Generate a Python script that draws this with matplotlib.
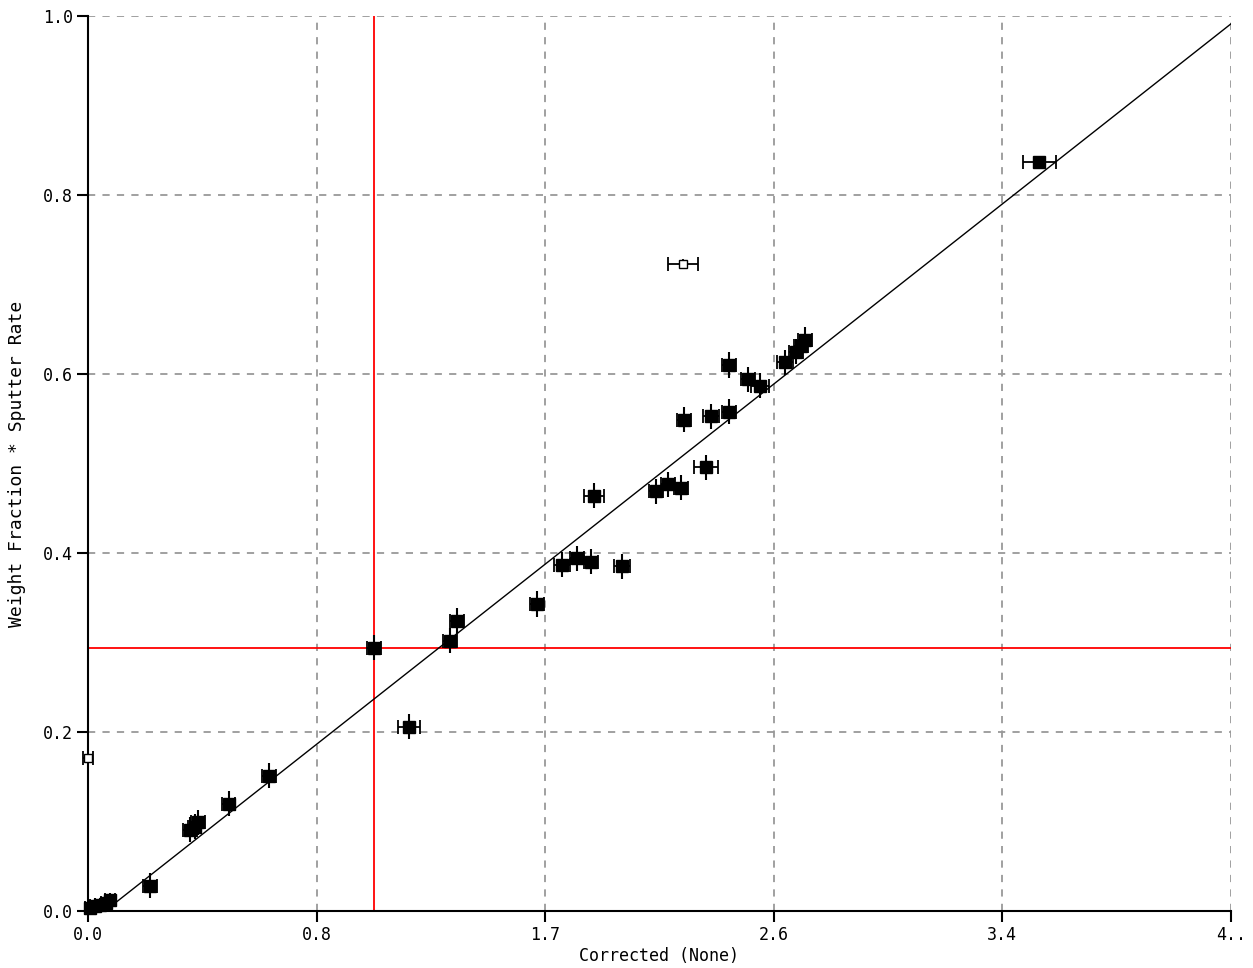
import matplotlib
matplotlib.use("Agg")
import matplotlib.pyplot as plt
import numpy as np

# measured points (filled squares)
x_vals = [0.008, 0.026, 0.045, 0.068, 0.083, 0.233, 0.384, 0.402, 0.414, 0.530, 0.681,
          1.076, 1.208, 1.362, 1.388, 1.689, 1.783, 1.840, 1.892, 2.009, 1.904,
          2.137, 2.182, 2.231, 2.325, 2.242, 2.344, 2.412, 2.412, 2.483, 2.528,
          2.622, 2.664, 2.682, 2.698, 3.578]
y_vals = [0.003, 0.006, 0.007, 0.009, 0.012, 0.028, 0.091, 0.094, 0.099, 0.120, 0.151,
          0.294, 0.206, 0.302, 0.324, 0.343, 0.387, 0.394, 0.390, 0.385, 0.464,
          0.469, 0.477, 0.473, 0.496, 0.549, 0.553, 0.558, 0.610, 0.594, 0.587,
          0.613, 0.625, 0.631, 0.638, 0.837]
x_err = [0.02, 0.02, 0.02, 0.02, 0.02, 0.025, 0.025, 0.025, 0.025, 0.025, 0.025,
         0.025, 0.04, 0.025, 0.025, 0.025, 0.03, 0.025, 0.025, 0.03, 0.038,
         0.025, 0.025, 0.025, 0.045, 0.025, 0.03, 0.025, 0.025, 0.025, 0.035,
         0.03, 0.025, 0.025, 0.025, 0.062]
y_err = [0.008] * 5 + [0.014] * 30 + [0.006]

# excluded points (open squares)
x_open = [0.0, 2.239]
y_open = [0.171, 0.723]
x_open_err = [0.02, 0.056]
y_open_err = [0.01, 0.006]

# calibration fit and reference cross-hair
fit_slope = 0.234
fit_intercept = -0.015
ref_x = 1.076
ref_y = 0.294

xticks = [0.0, 0.86, 1.72, 2.58, 3.44, 4.3]
xtick_labels = ["0.0", "0.8", "1.7", "2.6", "3.4", "4.."]
yticks = [0.0, 0.2, 0.4, 0.6, 0.8, 1.0]

plt.rcParams['font.family'] = 'DejaVu Sans Mono'

fig = plt.figure(figsize=(12.53, 9.68), dpi=100)
ax = fig.add_axes([0.0702, 0.0589, 0.9122, 0.9246])

ax.set_xlim(0, 4.3)
ax.set_ylim(0, 1.0)

ax.grid(True, color='#999999', linestyle=(0, (4, 4)), linewidth=1.3)
ax.set_axisbelow(True)

xf = np.linspace(0, 4.3, 200)
ax.plot(xf, fit_slope * xf + fit_intercept, color='black', linewidth=1.0, zorder=3)

ax.axvline(ref_x, color='red', linewidth=1.3, zorder=2)
ax.axhline(ref_y, color='red', linewidth=1.3, zorder=2)

# vertical error bars without caps, horizontal ones with caps
ax.errorbar(x_vals, y_vals, yerr=y_err, fmt='none', ecolor='black',
            elinewidth=1.5, capsize=0, zorder=4, clip_on=False)
ax.errorbar(x_vals, y_vals, xerr=x_err, fmt='s', color='black',
            markersize=9, elinewidth=1.3, capsize=5, capthick=1.3, zorder=4,
            clip_on=False)
ax.errorbar(x_open, y_open, yerr=y_open_err, fmt='none', ecolor='black',
            elinewidth=1.3, capsize=0, zorder=4, clip_on=False)
ax.errorbar(x_open, y_open, xerr=x_open_err, fmt='s',
            color='black', markerfacecolor='white', markersize=6,
            elinewidth=1.3, capsize=5, capthick=1.3, zorder=4, clip_on=False)

ax.set_xticks(xticks)
ax.set_xticklabels(xtick_labels)
ax.set_yticks(yticks)
ax.set_yticklabels([f"{v:.1f}" for v in yticks])
ax.tick_params(direction='out', length=8, width=1.5, labelsize=12, pad=3)

for side in ['top', 'right']:
    ax.spines[side].set_visible(False)
for side in ['left', 'bottom']:
    ax.spines[side].set_linewidth(1.5)

ax.set_xlabel("Corrected (None)", fontsize=12, labelpad=2)
ax.set_ylabel("Weight Fraction * Sputter Rate", fontsize=13, labelpad=12)

fig.savefig("out.png", dpi=100)
